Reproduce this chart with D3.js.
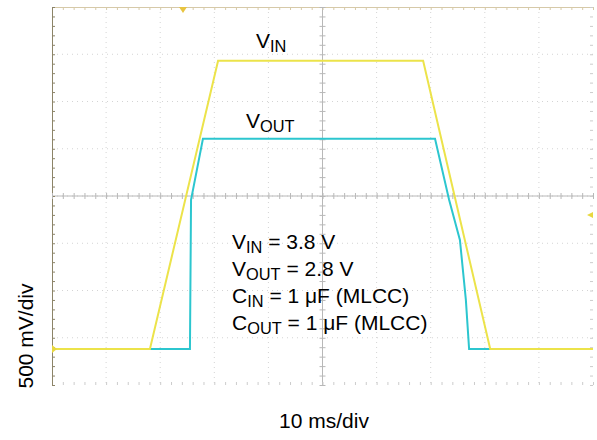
<!DOCTYPE html>
<html>
<head>
<meta charset="utf-8">
<script src="https://cdn.jsdelivr.net/npm/d3@7"></script>
<style>
  body { margin: 0; background: #fff; }
  svg { font-family: "Liberation Sans", Arial, sans-serif; }
</style>
</head>
<body>
<svg width="597" height="440"></svg>
<script>
// scope trace, x in ms (10 ms/div), y in divisions from screen centre
var vinTime  = [0, 18.1, 30.7, 68.6, 81.0, 100];
var vinDiv   = [-3.24, -3.24, 2.86, 2.86, -3.24, -3.24];
var voutTime = [0, 25.5, 25.7, 27.9, 70.8, 73.4, 75.4, 76.5, 77.1, 100];
var voutDiv  = [-3.24, -3.24, -0.08, 1.21, 1.21, -0.08, -0.93, -2.2, -3.24, -3.24];

var notes = [
  ["V", "IN", " = 3.8 V"],
  ["V", "OUT", " = 2.8 V"],
  ["C", "IN", " = 1 \u03bcF (MLCC)"],
  ["C", "OUT", " = 1 \u03bcF (MLCC)"]
];

var svg = d3.select("svg");
var pLeft = 52, pRight = 593, pTop = 7, pBottom = 385;

var x = d3.scaleLinear().domain([0, 100]).range([pLeft, pRight]);
var xd = d3.scaleLinear().domain([-5, 5]).range([pLeft, pRight]);
var y = d3.scaleLinear().domain([-4, 4]).range([pBottom, pTop]);

var g = svg.append("g");

// dotted grid at each division
var divX = d3.range(-4, 5), divY = d3.range(-3, 4);
g.selectAll(".gx").data(divX).enter().append("line")
    .attr("x1", function(d) { return xd(d); }).attr("x2", function(d) { return xd(d); })
    .attr("y1", pTop).attr("y2", pBottom)
    .attr("stroke", "#d4d4d4").attr("stroke-dasharray", "1,4");
g.selectAll(".gy").data(divY).enter().append("line")
    .attr("y1", function(d) { return y(d); }).attr("y2", function(d) { return y(d); })
    .attr("x1", pLeft).attr("x2", pRight)
    .attr("stroke", "#d4d4d4").attr("stroke-dasharray", "1,4");

// centre lines
g.append("line").attr("x1", xd(0)).attr("x2", xd(0)).attr("y1", pTop).attr("y2", pBottom)
    .attr("stroke", "#b8b8b8");
g.append("line").attr("y1", y(0)).attr("y2", y(0)).attr("x1", pLeft).attr("x2", pRight)
    .attr("stroke", "#b8b8b8");

var minorX = d3.range(-25, 26).map(function(i) { return i / 5; });
var minorY = d3.range(-20, 21).map(function(i) { return i / 5; });

function tickAxis(axis, tx, ty, col) {
  var a = g.append("g").attr("transform", "translate(" + tx + "," + ty + ")").call(axis);
  a.selectAll("text").remove();
  a.selectAll("line").attr("stroke", col);
  a.select(".domain").attr("stroke", col);
  return a;
}

tickAxis(d3.axisBottom(xd).tickValues(minorX).tickSize(3).tickSizeOuter(0).tickFormat(""), 0, pTop, "#d6c9a8");
tickAxis(d3.axisTop(xd).tickValues(minorX).tickSize(3).tickSizeOuter(0).tickFormat(""), 0, pBottom, "#cccccc")
    .select(".domain").attr("stroke", "none");
tickAxis(d3.axisRight(y).tickValues(minorY).tickSize(3).tickSizeOuter(0).tickFormat(""), pLeft, 0, "#8c8468");
tickAxis(d3.axisLeft(y).tickValues(minorY).tickSize(3).tickSizeOuter(0).tickFormat(""), pRight, 0, "#cccccc")
    .select(".domain").attr("stroke", "none");
// ticks on centre lines
tickAxis(d3.axisBottom(xd).tickValues(minorX).tickSize(6).tickSizeOuter(0).tickFormat(""), 0, y(0) - 3, "#b8b8b8")
    .select(".domain").attr("stroke", "none");
tickAxis(d3.axisRight(y).tickValues(minorY).tickSize(6).tickSizeOuter(0).tickFormat(""), xd(0) - 3, 0, "#b8b8b8")
    .select(".domain").attr("stroke", "none");

// traces
var line = d3.line()
    .x(function(d) { return x(d[0]); })
    .y(function(d) { return y(d[1]); });

svg.append("path")
    .datum(d3.zip(voutTime, voutDiv))
    .attr("d", line)
    .attr("fill", "none")
    .attr("stroke", "#2cc6cf")
    .attr("stroke-width", 2);

svg.append("path")
    .datum(d3.zip(vinTime, vinDiv))
    .attr("d", line)
    .attr("fill", "none")
    .attr("stroke", "#ece34a")
    .attr("stroke-width", 2);

// scope markers
svg.append("path").attr("d", "M179,7 L187,7 L183,13 Z").attr("fill", "#e8c440");
svg.append("path").attr("d", "M52,345 L57,349 L52,353 Z").attr("fill", "#e8d840");
svg.append("path").attr("d", "M593,212 L587,215 L593,218 Z").attr("fill", "#e8d840");

// labels
function subText(sel, main, sub, rest, fs) {
  var t = sel;
  t.append("tspan").text(main);
  t.append("tspan").attr("dy", 4).attr("font-size", fs * 0.78).text(sub);
  if (rest) t.append("tspan").attr("dy", -4).text(rest);
}

var t1 = svg.append("text").attr("x", 256).attr("y", 48).attr("font-size", 21).attr("fill", "#000");
subText(t1, "V", "IN", null, 21);
var t2 = svg.append("text").attr("x", 246).attr("y", 128).attr("font-size", 21).attr("fill", "#000");
subText(t2, "V", "OUT", null, 21);

notes.forEach(function(n, i) {
  var t = svg.append("text").attr("x", 232).attr("y", 249 + i * 27)
      .attr("font-size", 21).attr("fill", "#000");
  subText(t, n[0], n[1], n[2], 21);
});

svg.append("text")
    .attr("x", 324).attr("y", 428)
    .attr("text-anchor", "middle")
    .attr("font-size", 21)
    .text("10 ms/div");

svg.append("text")
    .attr("transform", "translate(33,336) rotate(-90)")
    .attr("text-anchor", "middle")
    .attr("font-size", 21)
    .text("500 mV/div");
</script>
</body>
</html>
